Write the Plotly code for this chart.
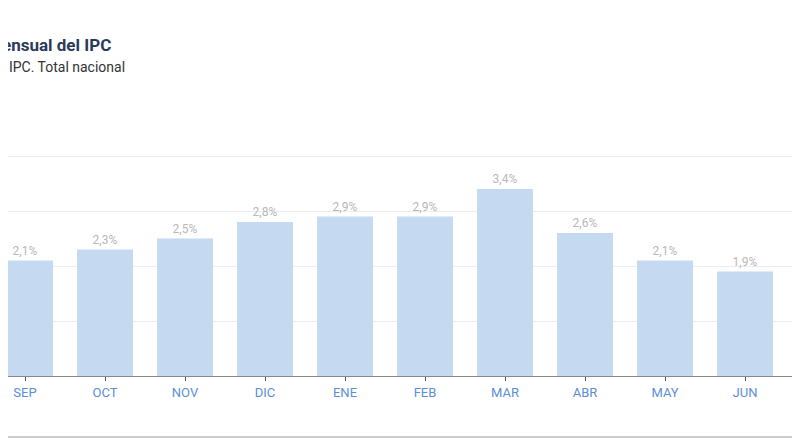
import plotly.graph_objects as go

months = ["SEP", "OCT", "NOV", "DIC", "ENE", "FEB", "MAR", "ABR", "MAY", "JUN", "JUL"]
values = [2.1, 2.3, 2.5, 2.8, 2.9, 2.9, 3.4, 2.6, 2.1, 1.9, 2.1]
labels = [f"{v:.1f}%".replace(".", ",") for v in values]

T, B = 93, 77
plot_h = 445 - T - B
base = 445 - B  # figure-pixel y of baseline

fig = go.Figure(go.Bar(
    x=list(range(len(months))), y=values, width=0.7,
    marker=dict(color="#c5d9f1", line=dict(width=0)),
    text=labels, textposition="outside", cliponaxis=True,
    textfont=dict(color="#b8b8b8", size=12, family="Roboto, Arial"),
))
fig.update_layout(
    width=800, height=445, margin=dict(l=0, r=0, t=T, b=B, autoexpand=False),
    paper_bgcolor="white", plot_bgcolor="white", showlegend=False,
    font=dict(family="Roboto, Arial"),
    xaxis=dict(range=[-0.2125, 9.7875], tickmode="array", tickvals=list(range(len(months))),
               ticktext=months, tickfont=dict(color="#5b8fd6", size=13),
               ticks="outside", ticklen=4, tickcolor="#555", showgrid=False,
               showline=True, linecolor="#888", linewidth=1),
    yaxis=dict(range=[0, 5], dtick=1, showticklabels=False, gridcolor="#ececec",
               zeroline=False, showline=False),
    annotations=[
        dict(text="<b>ensual del IPC</b>", x=-0.01, y=(base - 37) / plot_h, xref="paper", yref="paper",
             showarrow=False, xanchor="left", yanchor="middle",
             font=dict(size=17, color="#2b3a5a")),
        dict(text="l IPC. Total nacional", x=-0.01, y=(base - 59) / plot_h, xref="paper", yref="paper",
             showarrow=False, xanchor="left", yanchor="middle",
             font=dict(size=14, color="#333")),
    ],
    shapes=[dict(type="line", xref="paper", yref="paper", x0=-0.02, x1=1,
                 y0=(base - 429) / plot_h, y1=(base - 429) / plot_h, line=dict(color="#999", width=1))],
)
fig.write_html("out.html")
